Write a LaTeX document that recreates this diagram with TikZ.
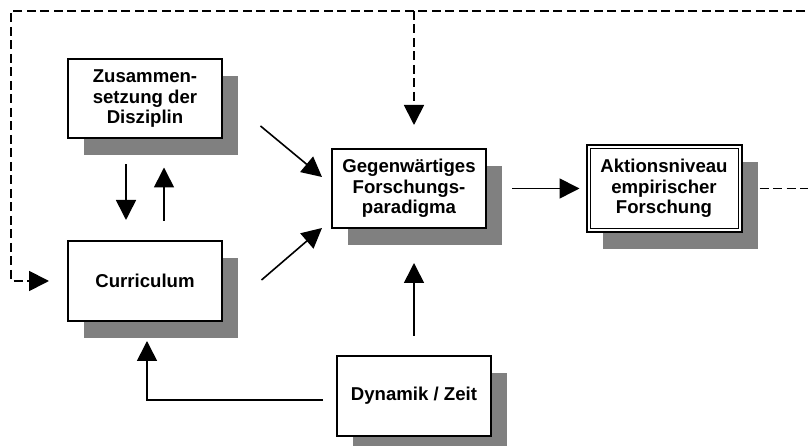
\documentclass[tikz,border=0pt]{standalone}
\usepackage{fontspec}
\setmainfont{Liberation Sans}
\usepackage{tikz}
\usetikzlibrary{arrows.meta,shadows}

\begin{document}
\begin{tikzpicture}[x=1pt,y=1pt,
  box/.style={draw, line width=2pt, fill=white, align=center,
    minimum width=154pt, minimum height=79pt, inner sep=2pt,
    font=\fontsize{18.6}{20.5}\selectfont\bfseries,
    drop shadow={shadow xshift=16pt, shadow yshift=-17pt, fill=black!50, opacity=1}},
  arr/.style={line width=1.6pt, -{Triangle[length=20pt,width=20pt]}},
  fb/.style={line width=1.8pt, dash pattern=on 9pt off 4.5pt, -{Triangle[length=20pt,width=20pt]}}]
\useasboundingbox (0,0) rectangle (808,446);

\node[box] (zus) at (145,347) {Zusammen-\\setzung der\\Disziplin};
\node[box,minimum height=80pt] (cur) at (145,165) {Curriculum};
\node[box] (geg) at (409,257.5) {Gegenwärtiges\\Forschungs-\\paradigma};
\node[box,minimum width=155pt,minimum height=87pt] (akt) at (664,257.5) {Aktionsniveau\\empirischer\\Forschung};
\draw[line width=1pt] ([xshift=4.5pt,yshift=-4.5pt]akt.north west) rectangle ([xshift=-4.5pt,yshift=4.5pt]akt.south east);
\node[box,minimum height=80pt] (dyn) at (414,50) {Dynamik / Zeit};

\draw[arr] ([xshift=37.5pt,yshift=-27pt]zus.east) -- ([xshift=-9pt,yshift=11.5pt]geg.west);
\draw[arr] ([xshift=38.5pt,yshift=1pt]cur.east) -- ([xshift=-9pt,yshift=1pt]geg.south west);
\draw[arr] ([xshift=-19pt,yshift=-25pt]zus.south) -- ([xshift=-19pt,yshift=20pt]cur.north);
\draw[arr] ([xshift=19pt,yshift=19pt]cur.north) -- ([xshift=19pt,yshift=-28pt]zus.south);
\draw[arr] ([xshift=25pt]geg.east) -- ([xshift=-6pt]akt.west);
\draw[arr] ([yshift=19pt]dyn.north) -- ([yshift=-34pt]dyn.north |- geg.south);
\draw[arr] ([xshift=-13pt,yshift=-4pt]dyn.west) -| ([xshift=2pt,yshift=-19pt]cur.south);

% feedback loop
\coordinate (topright) at (815,435);
\coordinate (topleft) at (11,435);
\draw[fb] ([xshift=17pt]akt.east) -| (topright) -- (topleft) |- ([xshift=-18pt]cur.west);
\draw[fb] (dyn.north |- topleft) -- ([yshift=23pt]dyn.north |- geg.north);
\end{tikzpicture}
\end{document}
